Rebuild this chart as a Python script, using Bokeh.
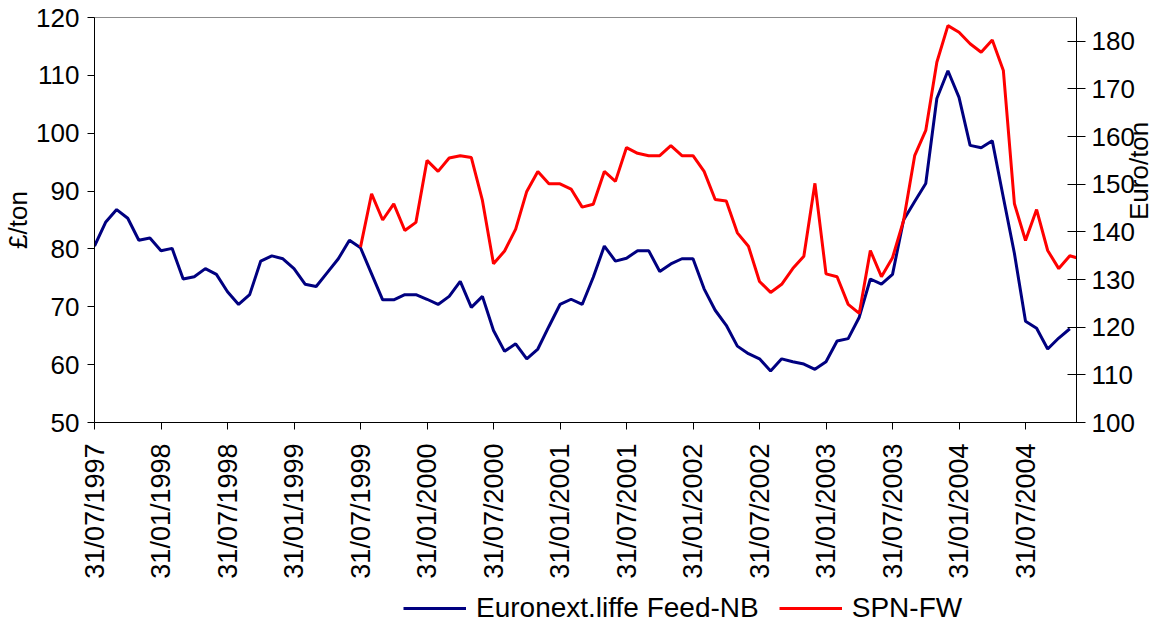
import math
from bokeh.plotting import figure
from bokeh.layouts import column
from bokeh.models import Range1d, LinearAxis, FixedTicker, Legend, LegendItem
from bokeh.embed import file_html
from bokeh.resources import INLINE

# x tick labels (every 6 months, monthly data starting 31/07/1997)
tick_labels = ["31/07/1997", "31/01/1998", "31/07/1998", "31/01/1999", "31/07/1999",
               "31/01/2000", "31/07/2000", "31/01/2001", "31/07/2001", "31/01/2002",
               "31/07/2002", "31/01/2003", "31/07/2003", "31/01/2004", "31/07/2004"]
tick_month_index = [0, 6, 12, 18, 24, 30, 36, 42, 48, 54, 60, 66, 72, 78, 84]

# Euronext.liffe Feed-NB, £/ton, monthly from 31/07/1997
feed_nb = [80.5, 84.6, 86.8, 85.3, 81.5, 81.9, 79.7, 80.1, 74.8, 75.2,
           76.6, 75.6, 72.6, 70.4, 72.1, 77.9, 78.8, 78.3, 76.6, 73.9,
           73.5, 75.9, 78.3, 81.5, 80.2, 75.7, 71.2, 71.2, 72.1, 72.1,
           71.3, 70.4, 71.8, 74.4, 69.9, 71.8, 65.9, 62.3, 63.6, 61.0,
           62.7, 66.6, 70.4, 71.3, 70.4, 75.1, 80.5, 77.9, 78.4, 79.7,
           79.7, 76.1, 77.4, 78.3, 78.3, 73.1, 69.4, 66.8, 63.2, 61.9,
           61.0, 58.9, 61.0, 60.5, 60.1, 59.2, 60.5, 64.1, 64.5, 68.2,
           74.8, 73.9, 75.6, 85.0, 88.2, 91.3, 106.0, 110.8, 106.2, 97.9,
           97.5, 98.7, 88.9, 79.2, 67.5, 66.3, 62.7, 64.6, 66.2]

# SPN-FW, Euro/ton, monthly from 31/07/1999 (month index 24)
spn_start = 24
spn_fw = [136.8, 148.0, 142.5, 145.9, 140.3, 142.0, 155.0, 152.7, 155.5, 156.0,
          155.6, 146.6, 133.3, 136.0, 140.6, 148.5, 152.7, 150.1, 150.1, 149.0,
          145.2, 145.8, 152.7, 150.6, 157.7, 156.5, 156.0, 156.0, 158.1, 156.0,
          156.0, 152.7, 146.8, 146.5, 139.8, 137.0, 129.6, 127.3, 129.0, 132.3,
          134.9, 150.2, 131.2, 130.6, 124.8, 122.9, 136.1, 130.6, 134.6, 142.4,
          156.0, 161.3, 175.6, 183.3, 181.9, 179.5, 177.7, 180.3, 173.9, 145.9,
          138.2, 144.7, 136.1, 132.3, 135.0, 134.3]

series_names = ["Euronext.liffe Feed-NB", "SPN-FW"]
series_colors = ["#000080", "#ff0000"]

x_feed = list(range(len(feed_nb)))
x_spn = [spn_start + i for i in range(len(spn_fw))]

FONT = "Liberation Sans"

p = figure(width=1173, height=590, output_backend="svg", toolbar_location=None,
           x_range=Range1d(0, 88.6), y_range=Range1d(50, 120),
           min_border_left=93, min_border_right=97, min_border_top=17,
           min_border_bottom=168)
p.extra_y_ranges = {"euro": Range1d(100, 185)}

p.xgrid.visible = False
p.ygrid.visible = False
p.outline_line_color = "#8c8c8c"
p.outline_line_width = 1
p.background_fill_color = "white"
p.border_fill_color = "white"

r1 = p.line(x_feed, feed_nb, line_color=series_colors[0], line_width=3)
r2 = p.line(x_spn, spn_fw, line_color=series_colors[1], line_width=3, y_range_name="euro")

# bottom axis
xa = p.xaxis[0]
xa.ticker = FixedTicker(ticks=tick_month_index)
xa.major_label_overrides = {t: l for t, l in zip(tick_month_index, tick_labels)}
xa.major_label_orientation = math.pi / 2
xa.minor_tick_line_color = None
xa.major_tick_in = 0
xa.major_tick_out = 7
xa.major_label_standoff = 14
xa.major_label_text_font = FONT
xa.major_label_text_font_size = "27px"
xa.major_label_text_color = "black"
xa.axis_line_color = "black"
xa.major_tick_line_color = "black"

# left axis
ya = p.yaxis[0]
ya.ticker = FixedTicker(ticks=[50, 60, 70, 80, 90, 100, 110, 120])
ya.axis_label = "£/ton"
ya.axis_label_text_font = FONT
ya.axis_label_text_font_size = "26px"
ya.axis_label_text_font_style = "normal"
ya.axis_label_text_color = "black"
ya.axis_label_standoff = 0
ya.major_label_text_font = FONT
ya.major_label_text_font_size = "26px"
ya.major_label_text_color = "black"
ya.major_label_standoff = 8
ya.minor_tick_line_color = None
ya.major_tick_in = 0
ya.major_tick_out = 7
ya.axis_line_color = "black"
ya.major_tick_line_color = "black"

# right axis
yr = LinearAxis(y_range_name="euro", ticker=FixedTicker(ticks=[100, 110, 120, 130, 140, 150, 160, 170, 180]))
yr.axis_label = "Euro/ton"
yr.axis_label_text_font = FONT
yr.axis_label_text_font_size = "26px"
yr.axis_label_text_font_style = "normal"
yr.axis_label_text_color = "black"
yr.axis_label_standoff = 1
try:
    yr.axis_label_orientation = math.pi / 2
except Exception:
    pass
yr.major_label_text_font = FONT
yr.major_label_text_font_size = "26px"
yr.major_label_text_color = "black"
yr.major_label_standoff = 6
yr.minor_tick_line_color = None
yr.major_tick_in = 9
yr.major_tick_out = 9
yr.axis_line_color = "black"
yr.major_tick_line_color = "black"
p.add_layout(yr, "right")

# legend strip below the chart (its series are drawn outside its visible range,
# so only the legend samples show)
lg = figure(width=1173, height=35, output_backend="svg", toolbar_location=None,
            x_axis_type=None, y_axis_type=None, min_border=0,
            x_range=Range1d(1000, 1001), y_range=Range1d(1000, 1001))
lg.outline_line_color = None
lg.xgrid.visible = False
lg.ygrid.visible = False
lg.background_fill_color = "white"
lg.border_fill_color = "white"
k1 = lg.line(x_feed, feed_nb, line_color=series_colors[0], line_width=3)
k2 = lg.line(x_spn, spn_fw, line_color=series_colors[1], line_width=3)

legend = Legend(items=[LegendItem(label=series_names[0], renderers=[k1]),
                       LegendItem(label=series_names[1], renderers=[k2])],
                orientation="horizontal", location=(309, 1))
legend.label_text_font = FONT
legend.label_text_font_size = "28px"
legend.label_text_color = "black"
legend.glyph_width = 63
legend.glyph_height = 20
legend.label_standoff = 10
legend.spacing = 20
legend.padding = 0
legend.margin = 0
legend.border_line_color = None
legend.background_fill_alpha = 0
lg.add_layout(legend)

layout = column(p, lg, spacing=0)
open("out.html", "w").write(file_html(layout, INLINE))
